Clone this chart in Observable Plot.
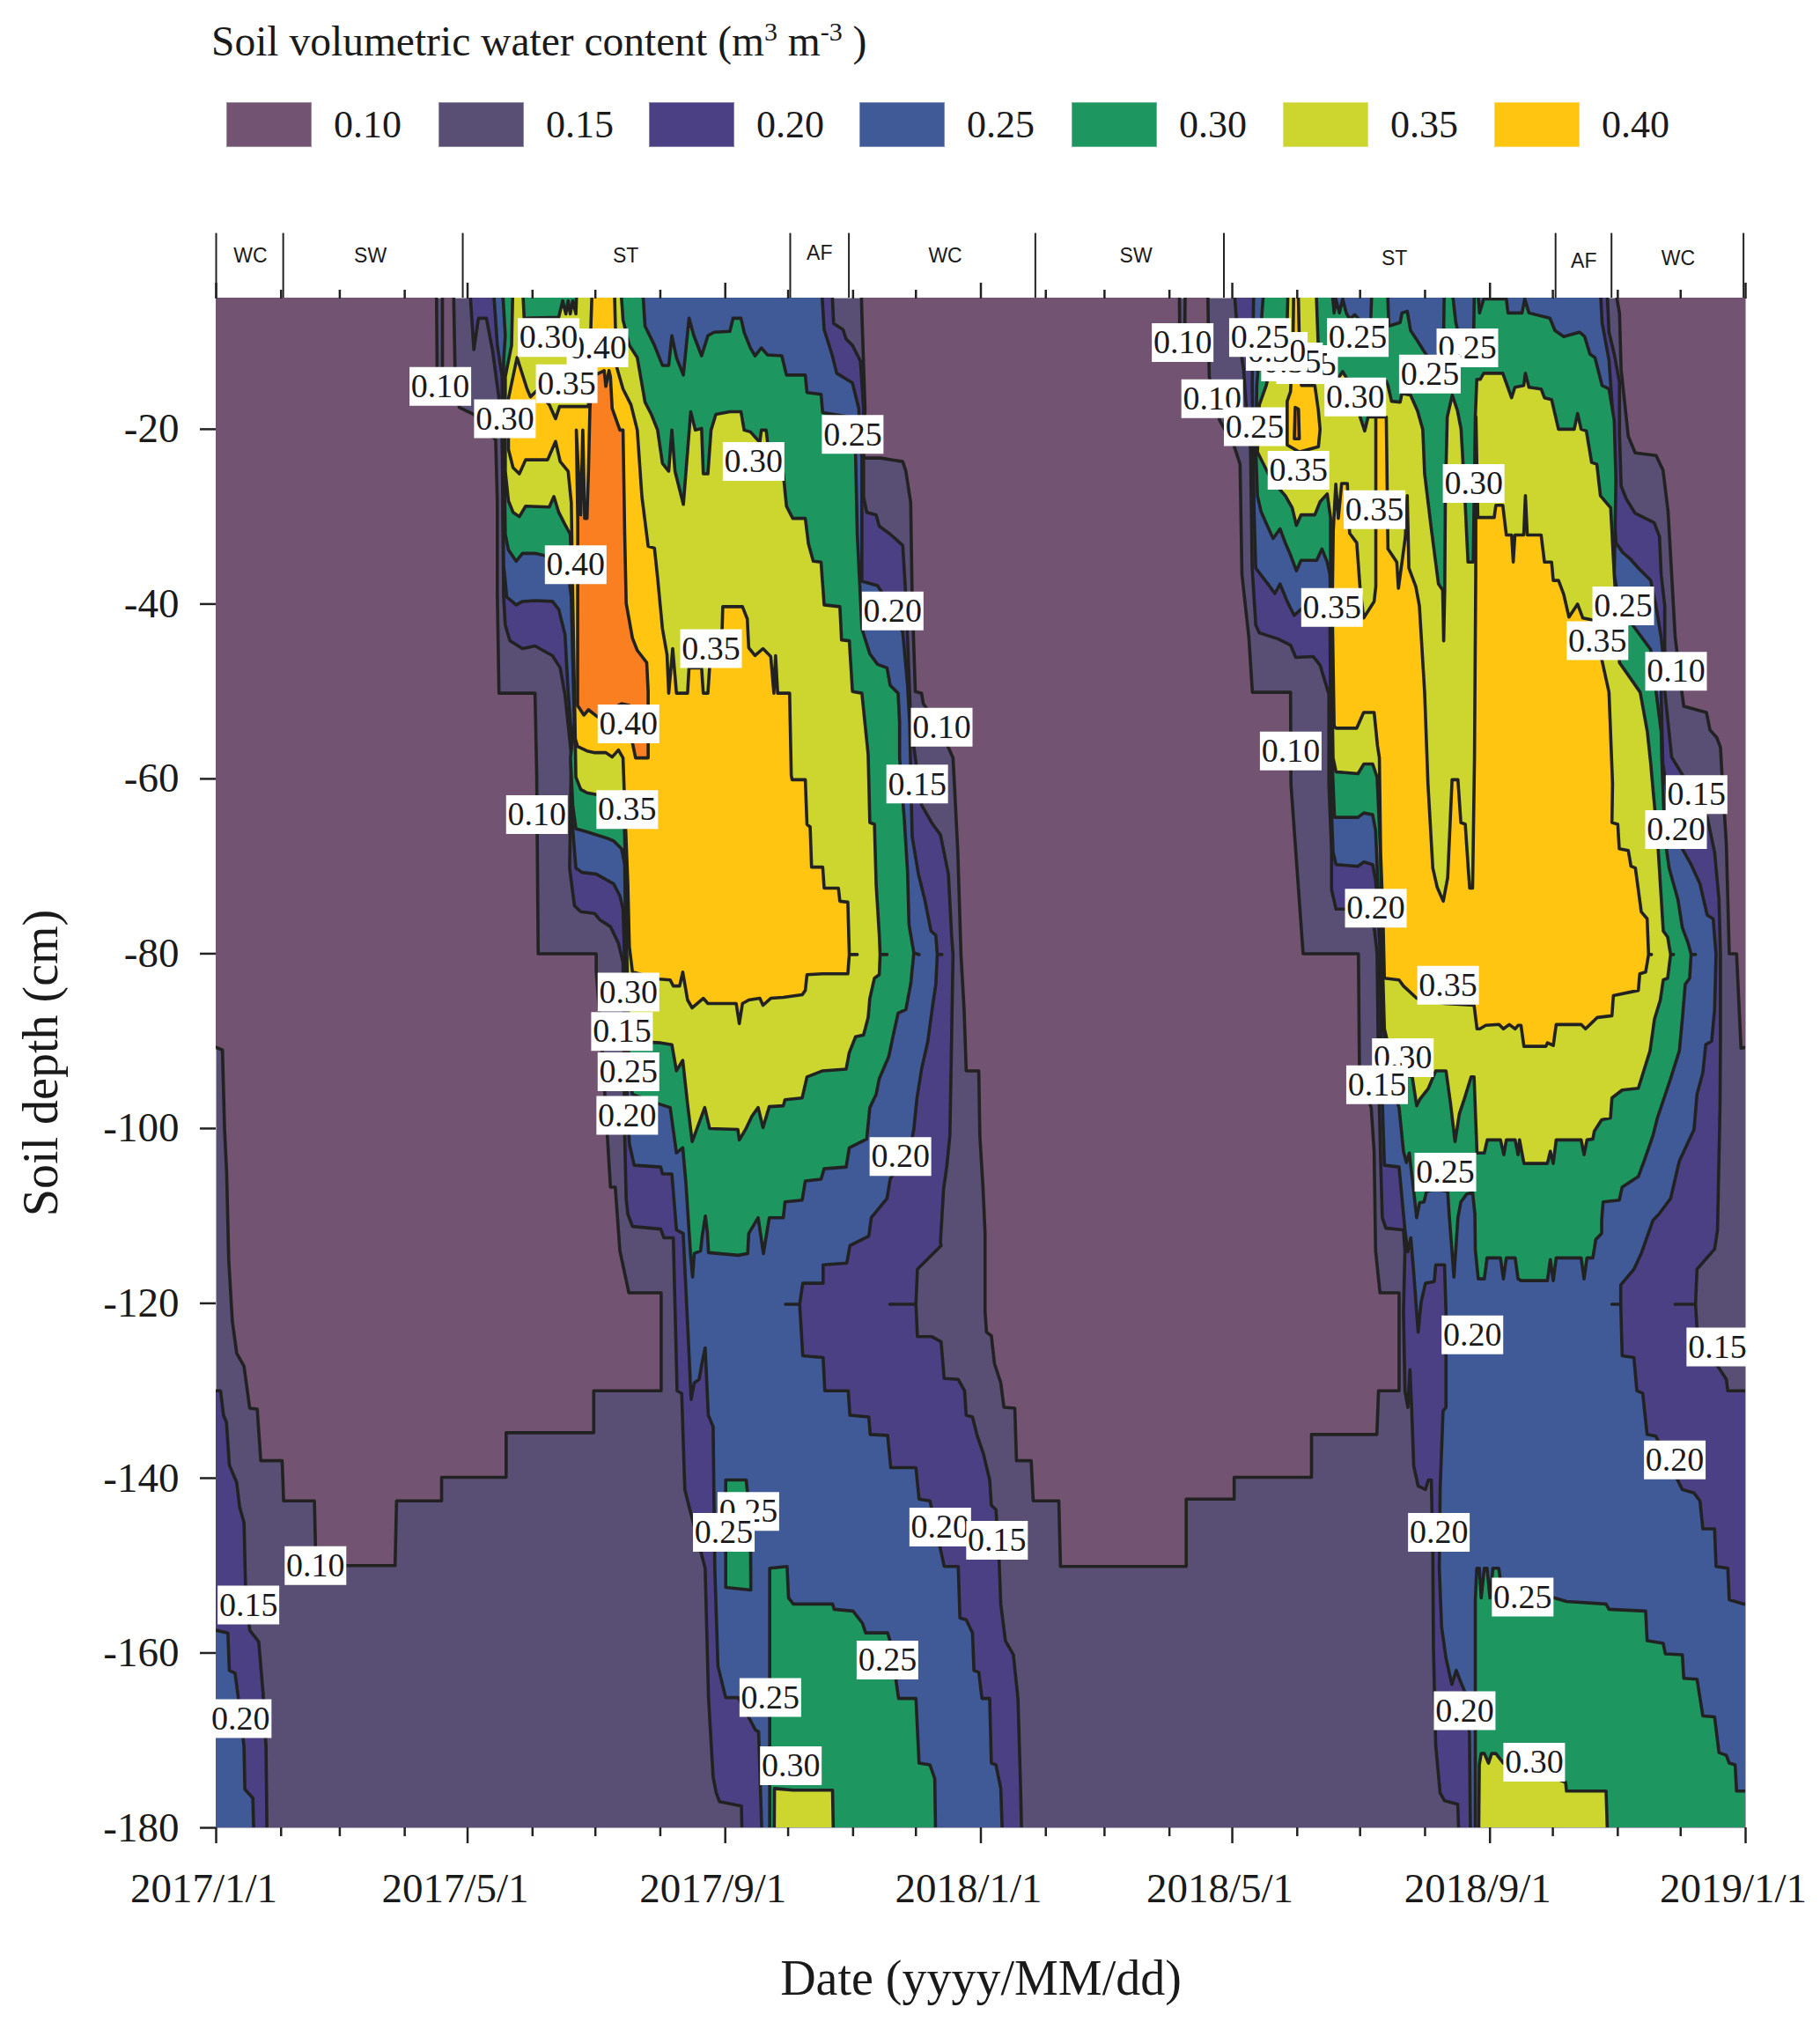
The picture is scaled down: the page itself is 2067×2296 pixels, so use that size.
<!DOCTYPE html>
<html><head><meta charset="utf-8">
<script src="https://cdn.jsdelivr.net/npm/d3@7"></script>
<script src="https://cdn.jsdelivr.net/npm/@observablehq/plot@0.6"></script>
<style>
html,body{margin:0;padding:0;background:#fff}
#head{position:relative;width:2067px;height:240px;font-family:"Liberation Serif",serif;color:#1a1a1a}
#title{position:absolute;left:240px;top:22px;font-size:47.5px;line-height:50px;white-space:nowrap}
#title sup{font-size:30px;line-height:0}
.sw{position:absolute;top:116px;width:97px;height:51px;box-sizing:border-box;border:1px solid #ffffff55}
.sl{position:absolute;top:116px;font-size:44px;line-height:51px}
svg{display:block}
</style></head><body>
<div id="head"><div id="title">Soil volumetric water content (m<sup>3</sup> m<sup>-3</sup> )</div></div>
<div id="chart"></div>
<script>
// All contour vertices are [days since 2017-01-01, depth in cm]
const legendLevels = ["0.10","0.15","0.20","0.25","0.30","0.35","0.40"];
const legendColors = ["#725371","#594e73","#4c4085","#3f5a96","#1e9660","#ccd62f","#ffc511"];
const orangeColor = "#fa7f20";
const yTicks = [-20,-40,-60,-80,-100,-120,-140,-160,-180];
const seasonBounds = [0,32,117.7,274,302,391,481,639.3,666,729];
const seasonNames = [["WC",16.4,-0.2],["SW",73.6,-0.2],["ST",195.5,-0.2],["AF",288,0.1],["WC",348,-0.2],["SW",439,-0.2],["ST",562.4,-0.5],["AF",652.8,-0.8],["WC",697.8,-0.5]];

const plumLeft = [[0,-5],[105,-5],[105.5,-14],[108,-14],[108,-5],[113,-5],[114,-13],[116,-17.5],[123,-18.3],[128,-20],[133.4,-21.2],[134.2,-28.4],[134.2,-39],[135,-50.2],[152.2,-50.2],[153,-59.6],[153.7,-80],[181.4,-80],[181.4,-82],[184,-90],[186.7,-100.8],[188.2,-106.7],[190.5,-106.7],[192.7,-114],[197,-118.8],[212.4,-118.8],[212.4,-130],[180.2,-130],[180.2,-134.8],[138.4,-134.8],[138.4,-139.9],[107.6,-139.9],[107.6,-142.6],[86.1,-142.6],[85.4,-150],[47.6,-150],[46.9,-142.6],[32.2,-142.6],[31.5,-138],[21.3,-138],[19.6,-132.1],[16,-132],[13.3,-127.2],[9.8,-125.7],[7.7,-122],[6,-115],[5,-105],[4,-100],[3,-91],[0,-90]];
const plumMiddle = [[307.5,-5],[308.2,-6.8],[309.7,-17.6],[309,-23.3],[317.2,-23.3],[327.7,-23.7],[329.2,-24.8],[331.5,-28.4],[332.2,-39.2],[333.7,-50],[336.7,-50.2],[337.5,-51.4],[345,-54],[351.7,-57.6],[352.5,-61.2],[354,-68.4],[355.5,-80.1],[357,-86.4],[358,-93.4],[364,-93.4],[364.5,-100.8],[366,-106.7],[367,-112],[367,-121],[367.7,-123.3],[370,-123.7],[371.5,-126.9],[374.5,-129.1],[376,-131.9],[381.2,-132],[382,-138],[389,-138],[390,-142.6],[402.2,-142.6],[403,-150.1],[463,-150.1],[463,-142.4],[485.9,-142.4],[485.9,-139.9],[522.8,-139.9],[522.8,-135],[554,-135],[554.8,-130],[564.6,-130],[564.6,-118.8],[555.5,-118.8],[553.4,-114],[552.7,-102.6],[551.3,-97.6],[545.7,-93.6],[545.2,-80],[518.8,-80],[513,-60.6],[512.8,-50.1],[494.6,-50.1],[492.9,-43.8],[489.6,-36.6],[488.7,-24],[486,-22],[479,-19],[474,-14],[473,-5],[462.7,-5],[462.2,-12],[460,-12],[459.6,-5]];
const plumRight = [[664.8,-5],[669.8,-6.7],[670.6,-13.2],[674,-20.8],[677.3,-22.7],[687.3,-23],[690.6,-24.7],[693,-29.4],[696.4,-43.8],[699.7,-50.3],[700.5,-51.7],[711.3,-52.4],[713,-54.4],[716.3,-55.3],[718,-56.4],[718.7,-59.4],[720.8,-67.4],[722.2,-80],[725.7,-80],[727.8,-90.8],[730,-90.4],[730,-5]];

const indigoCorner = [[0,-130],[2.1,-130],[3.5,-132.8],[4.9,-133.6],[6.3,-138.5],[9.8,-140.5],[11.2,-143.3],[13.3,-145.1],[14,-152.3],[16,-157.4],[20.3,-158.7],[22.4,-164.6],[23.8,-170.7],[24.5,-180],[0,-180]];
const blueCorner = [[0,-157],[5.6,-157.7],[6.3,-162],[9,-162.3],[10.5,-165],[13.3,-170.7],[13.7,-175.6],[17.5,-176.6],[18.6,-180],[0,-180]];

const indigo2017Left = [[120,-5],[123,-10.9],[125.2,-7.3],[129,-7.3],[132,-11.1],[135,-16.5],[136.5,-21.2],[137.2,-39.2],[138,-42.4],[140.2,-44.2],[146.2,-45.1],[152.2,-44.8],[160.5,-45.9],[164.2,-47.3],[166.5,-50.4],[169.5,-57.2],[168.7,-70.2],[171,-74.5],[174,-75.2],[180.7,-75.4],[183,-76.1],[188.2,-76.9],[192,-78.8],[194.2,-81],[195,-100.8],[195.7,-108],[196.5,-109.8],[198.7,-111.2],[212.2,-111.5],[213.7,-112.5],[218.2,-112.5],[220,-130],[222.2,-130.3],[223.7,-141.3],[226,-143.5],[233.4,-150.3],[235,-165.1],[237.2,-174.2],[238.7,-176],[240.2,-177],[250.7,-177.5],[251.5,-180]];
const indigo2017Right = [[293.2,-5],[294.7,-7.9],[299.2,-8.6],[300.7,-9.7],[303.7,-10.4],[307.5,-12.2],[309,-17.6],[309,-27.7],[310.5,-29.5],[315,-29.8],[316.5,-31.1],[321.7,-32],[327.7,-33.3],[329.2,-39.2],[330.7,-48.2],[331.5,-53.6],[336.7,-63],[342,-65.2],[345.7,-66.4],[348,-69.1],[349.5,-70.9],[351,-77.8],[351.7,-80.1],[351,-90],[350.2,-100.8],[348.7,-104.4],[347.2,-106.9],[345.7,-113],[346,-113.4],[334.7,-116.1],[334,-120.1],[321.5,-120.1],[334,-120.1],[334.7,-123.8],[341.5,-123.8],[346,-124.4],[347.5,-128.6],[354.2,-128.7],[357.2,-130],[358,-132.8],[361,-133],[363.2,-135.1],[366.2,-137.2],[369.2,-140.2],[370,-143.1],[372.2,-143.6],[373.7,-149.4],[374.5,-154.4],[376.7,-158.6],[380.5,-160.2],[382.7,-165.2],[383.9,-175],[385,-180]];

const blue2017Left = [[131.2,-5],[134.2,-10.4],[136.5,-14],[136.5,-17.6],[137.2,-35.6],[138,-37.4],[138.7,-39.2],[143.2,-40.1],[146.2,-39.7],[152.2,-39.6],[160.5,-39.7],[163.5,-40.6],[166.5,-43.5],[168,-50],[170.2,-57.2],[169.5,-63.7],[171.7,-70.2],[174.7,-70.7],[181.5,-70.9],[186,-71.5],[189.7,-72],[192.7,-73.4],[194.2,-74.9],[195,-81],[195.7,-93.6],[197.2,-101.7],[199.5,-104.2],[212.2,-104.4],[213,-105.2],[217.5,-105.2],[219.7,-111.6],[222.9,-112],[225.2,-123.3],[226.7,-131],[228.2,-129.1],[230.5,-128.7],[232,-126.7],[233.4,-125.1],[234.9,-132.8],[237.2,-134.1],[238,-150.3],[239.5,-161.5],[243.2,-165.1],[249.2,-165.1],[257.4,-168.8],[258.9,-169],[261.2,-180]];
const blue2017Right = [[288,-5],[290.2,-8.6],[294,-11.5],[296.2,-13.6],[303.7,-14.7],[306.7,-17.6],[308.2,-23.3],[308.2,-37.4],[315.7,-37.9],[320.2,-39.6],[327.7,-43.2],[330,-49.3],[331,-53.6],[332.2,-66.6],[335.2,-70.9],[338.2,-73.8],[341.2,-77.4],[343.5,-77.9],[344.2,-80.1],[346.4,-80.1],[344.2,-80.1],[343.5,-83.5],[342,-85.9],[339.7,-90],[336.7,-93.2],[334.5,-96.5],[333,-100.1],[331.5,-101.9],[321.7,-105.8],[320.2,-108],[312.7,-110.2],[311.5,-112.3],[302.5,-113.4],[301,-115.4],[289.7,-115.6],[289.7,-117.7],[280,-117.7],[278.5,-120.1],[271.7,-120.1],[278.5,-120.1],[280,-126],[289.7,-126.2],[290.5,-130],[301.7,-130],[302.5,-132.8],[311.5,-133],[312.2,-135],[320.5,-135.1],[322,-138.8],[334,-138.8],[335.5,-142.4],[340.7,-142.6],[347.5,-150.1],[354.2,-150.1],[355,-156],[358,-156.2],[361,-157.7],[361.7,-162],[364,-162.2],[365.5,-165.2],[369.2,-165.2],[370,-172.6],[372.2,-172.8],[374.5,-175.5],[376,-180]];

const green2017Left = [[135.7,-5],[138,-9.3],[137.2,-12.2],[137.2,-17.6],[138,-32],[139.5,-33.8],[143.2,-35.1],[146.2,-34.2],[152.2,-34.2],[157.5,-34.5],[167.2,-34.9],[169.5,-39.2],[170.2,-46.4],[171,-53.6],[169.1,-57.6],[170.2,-63],[171.7,-65.7],[176.2,-66],[181.5,-66.4],[186.7,-66.8],[189.7,-67.1],[193.5,-68],[195,-69.8],[195.7,-82.8],[197.2,-93.6],[198.7,-96.1],[211.5,-97.2],[216.7,-97.6],[219.7,-102.8],[222.7,-102.2],[224.2,-106.2],[226.4,-114.3],[227.4,-117],[228.2,-114.3],[231.2,-114],[232,-112.3],[233.5,-110],[234.5,-112],[235,-114.2],[249.2,-114.5],[253.7,-114.3],[254.2,-112],[258.7,-110.2],[261.2,-114.3]];
const green2017Right = [[202.5,-5],[204.7,-8.2],[209.2,-10.4],[213,-12.7],[216,-12.7],[217.5,-9.3],[219.7,-11.8],[223,-13.8],[225.7,-7.3],[228,-9.3],[231.7,-11.6],[234.7,-9.3],[237.7,-8.9],[245.2,-8.8],[246.7,-7.3],[250.5,-7.3],[252,-8.9],[255,-10.7],[257.2,-11.6],[260.2,-10.7],[263.2,-11.5],[270,-11.6],[272.2,-13.8],[281.2,-13.8],[282,-15.8],[288.7,-16],[289.5,-18.1],[305.2,-18.7],[305.2,-23],[306,-32],[308.2,-42.8],[312,-45.7],[315.7,-46.9],[320.2,-47.3],[321.7,-49.3],[325.5,-50.2],[326.2,-53.6],[326.2,-57.6],[328.5,-64.8],[330,-70.6],[330.7,-76.7],[333,-79.9],[335.5,-80.1],[333,-79.9],[331.5,-83.5],[329.2,-86.4],[325.5,-86.8],[323.2,-89.3],[321,-91.8],[316.5,-94.3],[315,-96.1],[312,-97.6],[310.5,-101.2],[302.2,-102.2],[300.7,-104.4],[290.2,-104.6],[288.7,-105.8],[281.2,-106],[279.7,-108.2],[271.5,-108.4],[270.7,-110.2],[264,-110.2]];
const greenPatch2017 = [[243.2,-140.2],[253,-140.2],[255,-145],[255.2,-152.8],[243.2,-152.5]];
const greenDeep2017 = [[264.2,-180],[264.2,-150.3],[272.5,-150.1],[273.2,-153.7],[275.5,-154.4],[294.2,-154.4],[295,-155],[304,-155.2],[308.5,-156.6],[310,-157.7],[320.5,-157.7],[322,-158.9],[325.7,-165.2],[334,-165.2],[335.5,-172.6],[340.7,-172.8],[343,-174.4],[343.7,-180]];
const yellowDeep2017 = [[266.2,-180],[266.5,-175.5],[275.5,-175.7],[294.2,-175.7],[295,-180]];

const yellow2017Left = [[142,-5],[141,-10.4],[138,-14],[138,-24.8],[139.5,-28.2],[141.7,-29.5],[144.7,-30],[147.7,-28.8],[159,-28.9],[161.2,-27.7],[163.5,-29.5],[166.5,-30.9],[169,-32],[170.2,-39.2],[171,-50],[171.4,-55.7],[171.7,-59.8],[174,-61.2],[177,-61.6],[181.5,-61.8],[194.2,-62.3],[195,-66.6],[196,-79.9],[197.2,-90],[212.2,-90.2],[217.5,-90.4],[219.7,-93.4],[222.7,-92.2],[225,-97.2],[227.2,-101.5],[233.2,-97.6],[235.5,-100],[249,-100.1],[249.7,-101.3],[252.7,-100.1],[255.7,-98.6],[258.7,-97.6],[261,-99.9],[264,-97.5]];
const yellow2017Right = [[145.5,-5],[147,-7.3],[163.5,-7.2],[165.4,-5.3],[166.9,-6.8],[168,-5.3],[169,-6.8],[170.2,-5.3],[171.7,-6.8],[172.7,-5],[192,-5],[194.2,-7.5],[197.2,-10.4],[201,-11.8],[204.7,-16.9],[207.7,-18.3],[210.7,-20.1],[213,-23.9],[216,-24.8],[217.5,-20.1],[219,-24.8],[223,-28.6],[226.5,-18],[228.7,-20.1],[231.7,-19.9],[232.5,-25.1],[234.7,-25.1],[236.2,-20.1],[238.5,-18.3],[245.2,-18],[250.5,-18],[252,-20.1],[255,-20.3],[259.5,-21.5],[260.2,-20.1],[262.5,-20.1],[263.2,-21.5],[270.7,-25.1],[272.2,-28.8],[275.2,-30.2],[281.2,-30.2],[282.7,-33.1],[285,-35.1],[288.7,-35.2],[290.2,-40.1],[297.7,-40.3],[298.5,-44.1],[302.2,-44.2],[303.7,-50],[308.2,-50.2],[311.2,-57.2],[312,-65],[314.2,-65.2],[315,-72],[316.5,-77.8],[316.9,-80.1],[320.2,-80.1],[316.9,-80.1],[316.5,-82.4],[314.2,-82.8],[312,-85.1],[311.2,-87.3],[309,-89.3],[305.2,-89.5],[302.2,-91.3],[300.7,-93.2],[289.5,-93.4],[282,-94.1],[279.7,-96.5],[271.5,-96.7],[270.7,-97.4],[264,-97.5]];

const gold2017 = [[180,-5],[189.7,-5],[190.5,-7.9],[191.2,-12.9],[194.2,-15.4],[198,-17.2],[201,-20.1],[203.2,-27.7],[206.2,-33.4],[209.2,-33.6],[210.7,-37],[213,-42.8],[215.2,-45.8],[216,-50.2],[217.9,-45.1],[219.7,-50.2],[225,-50.2],[225.7,-47.3],[231.7,-47.3],[232.5,-50.2],[234.7,-50.2],[235.5,-47.3],[241.5,-42.8],[241.8,-40.3],[251.2,-40.3],[253.5,-41.7],[254.2,-45],[257.2,-45.9],[261,-45.1],[264.7,-46],[266.2,-50.2],[267,-45.9],[268,-50.2],[273.7,-50.2],[274.5,-59.6],[274.9,-60.1],[281.2,-60.1],[282,-65.2],[283.5,-65.5],[284.2,-70.1],[289.5,-70.1],[290.2,-72.5],[297,-72.5],[297.7,-74],[301.5,-74.1],[302.2,-80.1],[306,-80.1],[302.2,-80.1],[301.5,-82.3],[289.5,-82.3],[282,-82.4],[281.2,-84.2],[279.7,-84.7],[270.7,-85],[264.7,-85.1],[261,-85.9],[259.5,-85.1],[254.2,-85.3],[251.2,-85.7],[249.7,-88],[248.2,-85.7],[234.7,-85.7],[232.5,-85.1],[227.2,-86.2],[225,-85.3],[222.7,-82.1],[221.2,-83.7],[218.2,-83.7],[216.7,-83],[211.5,-82.9],[198.7,-82.1],[197.2,-79.2],[196.5,-72],[195,-63],[194.2,-57.6],[192,-56.7],[189,-57.5],[186,-57],[180.7,-57],[177,-56.8],[172.5,-56.3],[171.4,-55.4],[171,-50],[170.2,-39.2],[169.5,-28.4],[168,-24.8],[164.2,-23.7],[162,-21.4],[158.2,-23.5],[147.7,-23.5],[144.7,-25.1],[141.7,-24.4],[139.5,-22.3],[139.5,-16.5],[143.6,-11.8],[148.4,-15.4],[150,-16.3],[153,-15.6],[159,-17.2],[162,-18.8],[163.9,-17.4],[177.7,-17.4],[178.9,-7.9]];
const orange2017 = [[185.2,-13.3],[186,-15.1],[187.5,-13.3],[188.2,-14],[189,-17.6],[192.7,-20.1],[194.2,-20.1],[195,-32],[195.7,-39.9],[198.7,-43.9],[201,-45.3],[205.5,-46.7],[206.2,-50],[206.2,-57.6],[200.2,-57.6],[198.7,-55.9],[197.2,-51.6],[193.5,-51.4],[182,-52.9],[177.7,-52.1],[175.5,-52.7],[172.5,-51.6],[172.6,-30.6],[171.9,-20.1],[174,-29.8],[175,-20.1],[175.9,-30.2],[177,-30.2],[177.7,-24.8],[178.4,-17.6],[179.2,-14]];

const indigo2018Left = [[484.6,-5],[487.1,-7.8],[490.4,-13.2],[492,-18.6],[493.7,-22.2],[494.5,-35.9],[496.2,-42.4],[497.9,-43.3],[507,-44],[512.8,-44.7],[515.3,-46.1],[523.6,-46],[526.9,-47],[531.1,-50.3],[531.1,-60.6],[532.4,-68.4],[532.4,-72.7],[534.5,-74.9],[539.4,-74.9],[552.7,-77],[554.1,-79.9],[554.8,-93.6],[555.8,-103.7],[556.6,-110.2],[558.3,-111.4],[566.7,-111.6],[567.4,-114],[566.7,-121],[567.4,-130],[568.8,-131.9],[569.8,-127.6],[570.6,-131.9],[571.6,-138.6],[573.7,-140.9],[577.2,-141.3],[578.6,-140.2],[580,-140.2],[580.7,-148],[581,-159.3],[582.1,-170.6],[584.2,-176],[586.3,-176.9],[592.6,-177.3],[594,-180]];
const indigo2018Right = [[663.1,-5],[664.8,-8.9],[667.3,-11.4],[669.8,-14.6],[669.8,-20.4],[670.6,-26.5],[673.1,-28],[677.2,-29.6],[686.4,-30.7],[688.9,-32.3],[689.7,-36.6],[691.4,-40.2],[691.4,-49.9],[694.7,-57.5],[700.5,-59.8],[711.7,-64.4],[715.2,-68.4],[717.3,-73.8],[718,-80.1],[718,-90],[717.8,-97.2],[716.6,-111.6],[715.2,-113.8],[706.8,-116.1],[706.1,-120.1],[696.3,-120.1],[706.1,-120.1],[706.8,-122.9],[708.2,-124.7],[717.3,-127.4],[720.8,-128.7],[721.5,-130],[730,-130],[730,-180]];

const blue2018Left = [[495.5,-5],[494.5,-15],[495.4,-29.4],[496.2,-35.9],[502,-37.7],[505.3,-38.8],[507.8,-37.7],[511.2,-39.7],[514.5,-41.3],[517.8,-40.6],[526.9,-40.2],[530.2,-40.6],[531.6,-42.4],[531.9,-51],[532.4,-64],[533.1,-68.4],[534.5,-69.8],[545,-70],[547.8,-69.5],[552,-69.8],[553.4,-71.6],[555.5,-79.2],[556.2,-93.6],[556.9,-99],[557.6,-104.2],[564.6,-104.4],[566,-108],[567.4,-111.6],[568.8,-114.1],[570.2,-112.5],[571.6,-116.5],[573.7,-123.3],[575.1,-119.9],[577.2,-117.7],[581.4,-117.5],[582.1,-115.6],[586.3,-115.6],[587,-121],[587,-131.9],[585.6,-132.3],[584.2,-141.3],[583.8,-150.3],[584.9,-157],[587,-160.6],[589.8,-163.6],[591.9,-162],[594,-163.3],[596.1,-164.5],[598.2,-169.2],[598.9,-180]];
const blue2018Right = [[659.8,-5],[661.5,-7.8],[664.8,-12.1],[666.5,-17.9],[667.3,-29.4],[668.1,-33],[671.4,-34.1],[674.8,-34.8],[678.9,-35.9],[684.7,-37.3],[687.2,-40.2],[689.7,-43.8],[690.5,-45.6],[689.7,-50.3],[690.5,-58.2],[693.5,-63],[699.8,-68],[704,-69.8],[708.2,-72],[711.7,-75.6],[714.5,-76],[715.9,-80.1],[715.2,-86.4],[713.8,-90],[711,-90.4],[709.6,-93.6],[706.8,-96.1],[705.4,-100.1],[698.4,-103.7],[694.2,-108],[688.6,-109.8],[685.8,-110.5],[680.2,-114.3],[676.7,-116.1],[670.4,-117.9],[670.4,-120.1],[666.2,-120.1],[670.4,-120.1],[671.1,-126],[676.7,-126.2],[678.1,-130],[680.9,-130.3],[683,-135],[687.2,-135.2],[699.8,-141.3],[705.4,-141.7],[708.2,-142.6],[709.6,-145.8],[715.2,-145.8],[715.9,-150.1],[721.5,-150.3],[722.2,-153.9],[729.2,-154.4],[730,-154.4],[730,-180]];

const green2018Left = [[501.2,-5],[496.7,-15],[496.2,-22.2],[497,-27.6],[498.7,-29.4],[502,-31.2],[504.5,-32.5],[507.8,-31.4],[510.3,-33],[512.8,-34.4],[515.6,-36.2],[517.8,-35],[525.3,-35],[527.8,-33.7],[530.3,-35.2],[531.6,-36.6],[532.2,-43.8],[532.7,-58.2],[533.8,-64.4],[545,-64.4],[547.8,-63.9],[552,-64.1],[553.4,-65.9],[554.8,-73.8],[556.6,-86.4],[559,-93.6],[564.6,-97.6],[566.7,-102.6],[568.1,-103.9],[569.5,-102.8],[571.6,-107.2],[573,-110.2],[574.4,-108.5],[576.5,-108.4],[577.7,-107.2],[582.1,-106.9],[587.8,-107.2],[588.5,-109.8],[590.8,-117],[592.7,-110.2],[594.1,-108.4],[596.9,-107.5],[599.7,-107.3],[600.8,-109.8],[601,-113.9],[602.4,-117.2],[605.3,-117.2],[606.6,-114.8],[613,-114.8],[614.4,-117.2],[615.8,-114.8],[620,-114.8],[621.4,-117.2],[622.8,-117.4],[635.4,-117.4],[636.8,-115],[638.2,-117.4],[639.6,-114.8],[651.5,-114.8],[652.9,-117.2],[654.3,-114.8],[657.1,-114.8],[658.5,-112.7],[661.3,-112]];
const green2018Right = [[531.1,-5],[533.6,-6.7],[534.4,-5.1],[536.1,-6.7],[537.7,-5.1],[539.4,-6.7],[541,-7.4],[543.5,-6.9],[546.9,-7.8],[551,-8.2],[552.2,-5],[558.5,-5],[559.7,-8.2],[565.1,-7.8],[566,-6.7],[568.5,-6.5],[570.1,-8.7],[572.6,-9.6],[576.8,-11.2],[581.7,-12.8],[585.9,-8.7],[586.4,-5],[588,-5],[591.7,-7.8],[594.2,-10.3],[595.9,-11.4],[600,-12.5],[600.8,-5],[603,-6.7],[605,-5.1],[615.8,-5.1],[616.6,-6.7],[623.3,-6.7],[624.6,-5.1],[626.6,-6.7],[636.6,-7.3],[639,-8.7],[643.2,-9.4],[650.7,-8.9],[653.2,-9.4],[655.7,-11.4],[658.1,-11.8],[661.5,-15],[664.8,-15.4],[667.3,-19],[668.1,-25.8],[667.3,-36.6],[669.8,-40.2],[676.4,-42.5],[684.7,-45.2],[689.7,-54.6],[690,-57.6],[691.4,-66.6],[693.5,-70.2],[697.7,-73.8],[699.8,-77],[702.6,-78.8],[704,-80.1],[706.1,-80.1],[704,-80.1],[703.3,-82.8],[701.2,-83.5],[699.8,-87.5],[698.4,-91.1],[694.2,-94.3],[691.4,-96.3],[687.9,-98.8],[685.8,-100.8],[681.6,-103.7],[678.8,-105.5],[671.1,-106.7],[669.7,-108.2],[662,-108.4],[661.3,-110.5]];
const greenDeep2018 = [[601,-180],[601,-153.9],[601.7,-150.3],[602.9,-150.3],[603.8,-153.7],[605.3,-150.3],[606.6,-150.3],[608,-153.7],[609.4,-150.3],[612.2,-150.3],[613,-151.7],[624.2,-153.2],[638.9,-153.7],[644.5,-154.1],[663.4,-154.4],[664.8,-155],[682.3,-155.2],[683,-158.6],[690.7,-158.9],[691.7,-160.1],[699.8,-160.2],[700.5,-162.9],[706.8,-163],[709.6,-167.2],[715.2,-167.3],[717.3,-171.4],[720.8,-171.7],[722.2,-172.6],[725,-172.8],[725.7,-175.8],[730,-175.8],[730,-180]];
const yellowDeep2018 = [[602.4,-180],[602.9,-172.8],[603.8,-171.5],[605.3,-171.5],[607.3,-172.6],[608.8,-171.5],[610.8,-171.5],[614.4,-172.6],[630,-173.5],[644.1,-174.8],[644.5,-175.8],[663.4,-175.8],[664.8,-180]];

const yellow2018 = [[512,-5],[524.4,-5],[526.1,-11],[525.3,-13.9],[529.4,-14.5],[535.2,-14.3],[537.7,-13.4],[539.4,-14.1],[543.5,-16.8],[546,-18.6],[548.2,-20.2],[549.8,-18.6],[552.7,-18.6],[553.5,-14.5],[558.5,-14.5],[559.3,-15],[561,-16.8],[565.1,-16.9],[566,-15.9],[570.1,-16.1],[573.4,-17.9],[575.9,-20],[576.8,-25.1],[580.1,-31.6],[583.4,-37.7],[585.4,-38.4],[585.9,-44.2],[586.4,-38.4],[586.7,-27.6],[587.6,-18.6],[590,-16.1],[592.5,-17.9],[594.2,-20],[595.9,-27.2],[597.5,-35.2],[600,-35.2],[601,-18.6],[601.7,-14.3],[603.3,-14.3],[605,-13.6],[614.1,-13.6],[618.3,-16.4],[619.9,-15.2],[624.1,-15],[624.9,-13.6],[626.6,-15.2],[632.4,-15.4],[634,-16.4],[637.4,-16.6],[640.7,-20],[648.2,-20],[649.8,-18.2],[651.5,-20],[654,-20.2],[656.5,-23.8],[659,-24],[660.7,-27.6],[665.6,-29],[667.3,-36.6],[669,-42.7],[669.8,-46.7],[679.7,-50.1],[683.1,-54.6],[684.7,-58.2],[685.8,-61.2],[687.9,-66.6],[689.3,-72],[690.7,-77.4],[692.8,-78.1],[694.2,-80.1],[695.6,-80.1],[694.2,-80.1],[692.8,-82.8],[690.7,-83],[689.3,-85.3],[686.5,-87.5],[684.4,-91.1],[682.3,-92.7],[678.8,-95.4],[671.1,-95.6],[666.2,-96.5],[665.5,-98.8],[661.3,-99],[657.8,-100.3],[657.1,-101.2],[654.3,-101.3],[652.9,-103],[651.5,-101.3],[639.6,-101.3],[638.2,-104],[636.8,-102.6],[635.4,-104],[624.2,-104],[622.1,-101.3],[621.4,-103],[620,-101.3],[615.8,-101.3],[614.6,-103],[613,-101.3],[606.7,-101.3],[605.3,-102.8],[601.8,-102.8],[600.4,-94.1],[599,-94.1],[595.5,-96.8],[593.4,-98.3],[591.3,-101.5],[589.2,-97.2],[587,-93.4],[582.1,-93.4],[578.6,-95.4],[574.4,-96.7],[573,-97.4],[570.9,-94.1],[563.9,-93.6],[559,-90],[557.6,-88.6],[556.9,-82.8],[555.8,-68.4],[554.1,-59.8],[552,-58.3],[547.8,-58.3],[545,-59.4],[534.5,-59.2],[533.1,-57.6],[532.2,-43.8],[531.9,-36.6],[531.9,-30.1],[530.3,-27.4],[526.9,-28.3],[524.4,-29.8],[517.8,-29.8],[515.6,-31],[513.6,-29],[510.3,-27.6],[503.7,-25.8],[497,-22.6],[497.9,-17.2],[501.2,-15],[506.2,-9.6],[511.2,-7.8]];

const gold2018 = [[533.2,-31.6],[534.4,-26.3],[535.6,-30.2],[537.2,-26.2],[539.9,-26.2],[541,-31.9],[544.4,-33],[546,-38.2],[547.7,-41.6],[552.7,-39.7],[553.5,-38],[553.5,-18.6],[558.5,-18.6],[559.3,-33.7],[563.5,-35.2],[564.3,-38.2],[566,-35.2],[567.6,-32.3],[568.5,-27.6],[569.3,-35.9],[572.6,-38],[574.3,-40.2],[576.8,-50.1],[578.4,-60.6],[580.7,-70.2],[582.8,-72.4],[585.7,-74],[587.8,-71.3],[589.9,-60.1],[592.7,-60.1],[594.1,-65],[596.2,-65.2],[597.6,-70.2],[598.3,-72.5],[599.7,-72.5],[600.6,-57.6],[601.2,-36.6],[601.3,-18.6],[602.2,-30.1],[610,-30.1],[610.8,-28.7],[614.1,-28.7],[615.8,-32.1],[618.3,-32.1],[619.1,-35.2],[619.9,-32.1],[624.1,-32.1],[624.9,-27.6],[625.8,-32.1],[632.4,-32.1],[634,-35.2],[637.4,-35.2],[638.2,-37.3],[640.7,-37.3],[643.2,-38.9],[645.7,-41.5],[649.8,-40],[652.3,-41.6],[656.5,-41.8],[661.5,-46.5],[664.8,-50.1],[666.5,-60.6],[666.2,-65],[669,-65.2],[669.7,-68],[674,-68.2],[675.3,-70],[677.4,-70.2],[678.8,-72.7],[680.2,-75.2],[683,-76],[683.7,-80.1],[685.1,-80.1],[683.7,-80.1],[682.3,-82.1],[679.5,-82.3],[678.8,-84.2],[666.9,-84.8],[666.2,-87.1],[659.2,-87.3],[653.6,-88.6],[651.5,-88.1],[639.6,-88.1],[638.2,-90.5],[635.4,-90.2],[634.7,-90.6],[624.2,-90.6],[622.8,-88.2],[621.4,-88.2],[620,-88.6],[617.2,-88.1],[614.4,-88.6],[612.3,-88.1],[606,-88.2],[603.2,-88.6],[601.8,-88.6],[600.4,-85.9],[586.3,-85.7],[573,-85.1],[566.7,-83.7],[564.6,-83],[557.6,-82.8],[556.9,-75.6],[555.8,-68.4],[555.2,-57.6],[554.3,-56.2],[552.7,-52.4],[547.7,-52.4],[544.4,-54.2],[534.4,-54.2],[533.6,-53.9],[532.7,-40.2]];
const goldCap2018 = [[514.5,-5],[516.1,-5],[517,-10],[518,-15],[524.4,-15],[526.1,-17.9],[526.9,-20],[526.1,-22],[517,-22.6],[511.2,-21.8],[511.2,-16.8],[512.8,-15.7],[514,-10]];
const orangeDrop2018 = [[515,-17.5],[516.6,-17.7],[517,-21.1],[514.6,-21.1]];

// inline contour labels, in drawing order: [text, day, depth]
const contourLabels = [
["0.40",182,-10.7],["0.30",158.7,-9.5],["0.35",167.3,-14.8],["0.10",107,-15.1],["0.30",137.8,-18.8],["0.40",171.6,-35.5],["0.35",236.2,-45.1],["0.30",256.5,-23.7],["0.25",303.8,-20.6],["0.20",322.9,-40.8],["0.10",346.3,-54.1],["0.15",334.6,-60.6],["0.40",196.8,-53.7],["0.35",196.2,-63.5],["0.10",153.1,-64.1],["0.30",196.8,-84.4],["0.25",196.8,-93.5],["0.15",193.7,-88.9],["0.20",196.2,-98.5],["0.20",326.6,-103.2],["0.25",254,-143.8],["0.25",242.3,-146.2],["0.20",345.6,-145.6],["0.15",372.7,-147.1],["0.10",47.4,-150],["0.15",15.4,-154.5],["0.20",11.7,-167.5],["0.25",264.5,-165.1],["0.25",320.4,-160.8],["0.30",274.3,-172.9],
["0.10",461.3,-10.1],["0.10",475.4,-16.5],["0.35",520.7,-12.6],["0.35",513.5,-12.3],["0.30",506.2,-11.1],["0.25",498.2,-9.5],["0.25",495.7,-19.7],["0.25",544.9,-9.5],["0.30",543.7,-16.3],["0.25",597.2,-10.7],["0.25",579.3,-13.7],["0.35",516.6,-24.7],["0.30",600.2,-26.2],["0.35",552.9,-29.2],["0.35",532.6,-40.4],["0.35",659.3,-44.2],["0.25",671.6,-40.2],["0.10",696.8,-47.7],["0.10",512.9,-56.8],["0.20",696.8,-65.8],["0.15",706.6,-61.8],["0.20",553.5,-74.8],["0.35",588,-83.6],["0.30",566.4,-91.9],["0.15",554.1,-95],["0.25",586.7,-105],["0.20",599.6,-123.6],["0.15",716.5,-125],["0.20",696.2,-137.9],["0.20",583.6,-146.2],["0.25",623.6,-153.6],["0.20",595.9,-166.6],["0.30",629.1,-172.5]];

const [c10,c15,c20,c25,c30,c35,c40] = legendColors;
const ring = (l,r)=>l.concat(r.slice().reverse());
const bands = [
 [plumLeft,c10],[plumMiddle,c10],[plumRight,c10],
 [indigoCorner,c20],[ring(indigo2017Left,indigo2017Right),c20],[ring(indigo2018Left,indigo2018Right),c20],
 [blueCorner,c25],[ring(blue2017Left,blue2017Right),c25],[ring(blue2018Left,blue2018Right),c25],
 [ring(green2017Left,green2017Right),c30],[greenPatch2017,c30],[greenDeep2017,c30],[ring(green2018Left,green2018Right),c30],[greenDeep2018,c30],
 [ring(yellow2017Left,yellow2017Right),c35],[yellowDeep2017,c35],[yellow2018,c35],[yellowDeep2018,c35],
 [gold2017,c40],[gold2018,c40],[goldCap2018,c40],
 [orange2017,orangeColor],[orangeDrop2018,orangeColor]
];

const origin = Date.UTC(2017,0,1);
const toDate = d => new Date(origin + d*864e5);
// contours that run off the frame are carried past it, so the clip hides their outline there
const bleedX = d => d<=0 ? -8 : d>=730 ? 738 : d;
const bleedY = v => v>=-5 ? 0 : v<=-180 ? -186 : v;

const months = d3.utcMonth.range(new Date(origin), new Date(Date.UTC(2019,0,2)));
const majorMonths = months.filter((_,i)=>i%4===0);
const minorMonths = months.filter((_,i)=>i%4!==0);
const fmt = d => `${d.getUTCFullYear()}/${d.getUTCMonth()+1}/${d.getUTCDate()}`;
const ink = "#222";
const box = {draw(c){c.rect(-35,-22,70,44);}};

const marks = [
 Plot.frame({fill:c15, stroke:null}),
 ...bands.map(([pts,color]) => Plot.line(pts,{
   x:p=>toDate(bleedX(p[0])), y:p=>bleedY(p[1]), fill:color, stroke:ink, strokeWidth:3.6,
   curve:"linear-closed", strokeLinejoin:"round", clip:true})),
 Plot.axisY({ticks:yTicks, tickFormat:d=>String(d), tickSize:18, tickPadding:24, fontSize:47, label:null, strokeWidth:2.5, stroke:ink, fill:"#1a1a1a"}),
 Plot.axisX({ticks:minorMonths, tickFormat:()=>"", tickSize:10, label:null, strokeWidth:2.5, stroke:ink}),
 Plot.axisX({ticks:majorMonths, tickFormat:()=>"", tickSize:18, label:null, strokeWidth:2.5, stroke:ink}),
 Plot.axisX({anchor:"top",ticks:minorMonths, tickFormat:()=>"", tickSize:10, label:null, strokeWidth:2.5, stroke:ink}),
 Plot.axisX({anchor:"top",ticks:majorMonths, tickFormat:()=>"", tickSize:18, label:null, strokeWidth:2.5, stroke:ink}),
 Plot.text(majorMonths,{x:d=>d, y:()=>-180, text:fmt, dy:69, dx:-14, fontSize:47, fill:"#1a1a1a"}),
 Plot.ruleX(seasonBounds,{x:toDate, y1:()=>-5, y2:()=>2.4, stroke:ink, strokeWidth:2}),
 Plot.text(seasonNames,{x:s=>toDate(s[1]), y:s=>s[2], text:s=>s[0], fontSize:23, fontFamily:"Liberation Sans", fill:"#1a1a1a"}),
 ...contourLabels.flatMap(l => [
   Plot.dot([l],{x:p=>toDate(p[1]), y:p=>p[2], r:10, symbol:box, fill:"white", stroke:null}),
   Plot.text([l],{x:p=>toDate(p[1]), y:p=>p[2], text:p=>p[0], fontSize:38, fill:"#1a1a1a"})
 ]),
 Plot.text(["Soil depth (cm)"],{frameAnchor:"left", textAnchor:"middle", lineAnchor:"middle", rotate:-90, dx:-198, fontSize:56, fill:"#1a1a1a"}),
 Plot.text(["Date (yyyy/MM/dd)"],{frameAnchor:"bottom", textAnchor:"middle", lineAnchor:"middle", dy:172, fontSize:56, fill:"#1a1a1a"})
];

const chart = Plot.plot({
  width:2067, height:2056, marginLeft:245, marginRight:85, marginTop:98, marginBottom:221,
  style:{fontFamily:"Liberation Serif", background:"white", overflow:"visible"},
  x:{type:"utc", domain:[new Date(origin), new Date(Date.UTC(2019,0,1))]},
  y:{domain:[-180,-5]},
  marks
});
document.getElementById("chart").append(chart);

const head = document.getElementById("head");
const swatchX = [257,498,737,976,1217,1457,1697];
legendLevels.forEach((lab,i)=>{
  const s=document.createElement("div"); s.className="sw"; s.style.left=swatchX[i]+"px"; s.style.background=legendColors[i]; head.append(s);
  const t=document.createElement("div"); t.className="sl"; t.style.left=(swatchX[i]+122)+"px"; t.textContent=lab; head.append(t);
});
</script>
</body></html>
